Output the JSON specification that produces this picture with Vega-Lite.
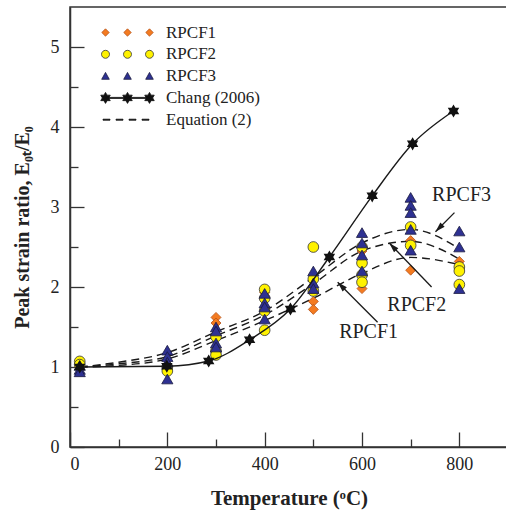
{
  "$schema": "https://vega.github.io/schema/vega-lite/v6.json",
  "width": 438,
  "height": 440,
  "autosize": {"type": "none"},
  "padding": {"left": 70, "top": 7, "right": 0, "bottom": 64},
  "config": {
    "view": {"stroke": "#333", "strokeWidth": 1.5},
    "font": "Liberation Serif",
    "axis": {
      "labelFont": "Liberation Serif",
      "titleFont": "Liberation Serif",
      "labelColor": "#222",
      "titleColor": "#222",
      "domainColor": "#333",
      "domainWidth": 1.5,
      "tickColor": "#333",
      "tickWidth": 1.3,
      "grid": false
    }
  },
  "resolve": {"axis": {"x": "independent", "y": "independent"}},
  "datasets": {
    "pts": [
      {"T": 20, "ratio": 1.0, "series": "RPCF1"},
      {"T": 200, "ratio": 1.02, "series": "RPCF1"},
      {"T": 300, "ratio": 1.62, "series": "RPCF1"},
      {"T": 300, "ratio": 1.55, "series": "RPCF1"},
      {"T": 400, "ratio": 1.93, "series": "RPCF1"},
      {"T": 500, "ratio": 1.82, "series": "RPCF1"},
      {"T": 500, "ratio": 1.72, "series": "RPCF1"},
      {"T": 600, "ratio": 2.45, "series": "RPCF1"},
      {"T": 600, "ratio": 1.98, "series": "RPCF1"},
      {"T": 700, "ratio": 2.58, "series": "RPCF1"},
      {"T": 700, "ratio": 2.21, "series": "RPCF1"},
      {"T": 800, "ratio": 2.32, "series": "RPCF1"},
      {"T": 20, "ratio": 1.07, "series": "RPCF2"},
      {"T": 20, "ratio": 1.03, "series": "RPCF2"},
      {"T": 200, "ratio": 1.0, "series": "RPCF2"},
      {"T": 200, "ratio": 0.95, "series": "RPCF2"},
      {"T": 300, "ratio": 1.38, "series": "RPCF2"},
      {"T": 300, "ratio": 1.2, "series": "RPCF2"},
      {"T": 300, "ratio": 1.15, "series": "RPCF2"},
      {"T": 400, "ratio": 1.97, "series": "RPCF2"},
      {"T": 400, "ratio": 1.86, "series": "RPCF2"},
      {"T": 400, "ratio": 1.7, "series": "RPCF2"},
      {"T": 400, "ratio": 1.46, "series": "RPCF2"},
      {"T": 500, "ratio": 2.5, "series": "RPCF2"},
      {"T": 500, "ratio": 2.1, "series": "RPCF2"},
      {"T": 500, "ratio": 1.95, "series": "RPCF2"},
      {"T": 600, "ratio": 2.5, "series": "RPCF2"},
      {"T": 600, "ratio": 2.3, "series": "RPCF2"},
      {"T": 600, "ratio": 2.15, "series": "RPCF2"},
      {"T": 600, "ratio": 2.06, "series": "RPCF2"},
      {"T": 700, "ratio": 2.75, "series": "RPCF2"},
      {"T": 700, "ratio": 2.52, "series": "RPCF2"},
      {"T": 800, "ratio": 2.25, "series": "RPCF2"},
      {"T": 800, "ratio": 2.2, "series": "RPCF2"},
      {"T": 800, "ratio": 2.03, "series": "RPCF2"},
      {"T": 20, "ratio": 1.02, "series": "RPCF3"},
      {"T": 20, "ratio": 0.97, "series": "RPCF3"},
      {"T": 20, "ratio": 0.94, "series": "RPCF3"},
      {"T": 200, "ratio": 1.21, "series": "RPCF3"},
      {"T": 200, "ratio": 1.13, "series": "RPCF3"},
      {"T": 200, "ratio": 1.06, "series": "RPCF3"},
      {"T": 200, "ratio": 0.85, "series": "RPCF3"},
      {"T": 300, "ratio": 1.5, "series": "RPCF3"},
      {"T": 300, "ratio": 1.45, "series": "RPCF3"},
      {"T": 300, "ratio": 1.3, "series": "RPCF3"},
      {"T": 300, "ratio": 1.25, "series": "RPCF3"},
      {"T": 400, "ratio": 1.92, "series": "RPCF3"},
      {"T": 400, "ratio": 1.8, "series": "RPCF3"},
      {"T": 400, "ratio": 1.75, "series": "RPCF3"},
      {"T": 400, "ratio": 1.6, "series": "RPCF3"},
      {"T": 500, "ratio": 2.2, "series": "RPCF3"},
      {"T": 500, "ratio": 2.05, "series": "RPCF3"},
      {"T": 500, "ratio": 1.98, "series": "RPCF3"},
      {"T": 600, "ratio": 2.68, "series": "RPCF3"},
      {"T": 600, "ratio": 2.55, "series": "RPCF3"},
      {"T": 600, "ratio": 2.4, "series": "RPCF3"},
      {"T": 600, "ratio": 2.2, "series": "RPCF3"},
      {"T": 700, "ratio": 3.12, "series": "RPCF3"},
      {"T": 700, "ratio": 3.02, "series": "RPCF3"},
      {"T": 700, "ratio": 2.93, "series": "RPCF3"},
      {"T": 700, "ratio": 2.72, "series": "RPCF3"},
      {"T": 700, "ratio": 2.46, "series": "RPCF3"},
      {"T": 800, "ratio": 2.7, "series": "RPCF3"},
      {"T": 800, "ratio": 2.5, "series": "RPCF3"},
      {"T": 800, "ratio": 1.98, "series": "RPCF3"}
    ],
    "chang": [
      {"T": 20, "ratio": 1.0},
      {"T": 199, "ratio": 1.01},
      {"T": 285, "ratio": 1.075},
      {"T": 369, "ratio": 1.34},
      {"T": 453, "ratio": 1.725},
      {"T": 533, "ratio": 2.375},
      {"T": 621, "ratio": 3.14},
      {"T": 704, "ratio": 3.79},
      {"T": 788, "ratio": 4.2}
    ],
    "eq": [
      {"curve": "RPCF1", "T": 20, "ratio": 1.0},
      {"curve": "RPCF1", "T": 100, "ratio": 1.02},
      {"curve": "RPCF1", "T": 200, "ratio": 1.1},
      {"curve": "RPCF1", "T": 300, "ratio": 1.33},
      {"curve": "RPCF1", "T": 400, "ratio": 1.58},
      {"curve": "RPCF1", "T": 500, "ratio": 1.86},
      {"curve": "RPCF1", "T": 600, "ratio": 2.17},
      {"curve": "RPCF1", "T": 700, "ratio": 2.37},
      {"curve": "RPCF1", "T": 800, "ratio": 2.28},
      {"curve": "RPCF2", "T": 20, "ratio": 1.0},
      {"curve": "RPCF2", "T": 100, "ratio": 1.04},
      {"curve": "RPCF2", "T": 200, "ratio": 1.13},
      {"curve": "RPCF2", "T": 300, "ratio": 1.39},
      {"curve": "RPCF2", "T": 400, "ratio": 1.65},
      {"curve": "RPCF2", "T": 500, "ratio": 2.04},
      {"curve": "RPCF2", "T": 600, "ratio": 2.45},
      {"curve": "RPCF2", "T": 700, "ratio": 2.57},
      {"curve": "RPCF2", "T": 800, "ratio": 2.35},
      {"curve": "RPCF3", "T": 20, "ratio": 1.0},
      {"curve": "RPCF3", "T": 100, "ratio": 1.06},
      {"curve": "RPCF3", "T": 200, "ratio": 1.18},
      {"curve": "RPCF3", "T": 300, "ratio": 1.44},
      {"curve": "RPCF3", "T": 400, "ratio": 1.7},
      {"curve": "RPCF3", "T": 500, "ratio": 2.12},
      {"curve": "RPCF3", "T": 600, "ratio": 2.55},
      {"curve": "RPCF3", "T": 700, "ratio": 2.72},
      {"curve": "RPCF3", "T": 800, "ratio": 2.48}
    ],
    "ann": [
      {"label": "RPCF3", "T": 744, "ratio": 3.15},
      {"label": "RPCF2", "T": 652, "ratio": 1.78},
      {"label": "RPCF1", "T": 553, "ratio": 1.44}
    ],
    "arrows": [
      {"from_T": 790, "from_r": 2.93, "to_T": 751, "to_r": 2.69},
      {"from_T": 743, "from_r": 2.0, "to_T": 656, "to_r": 2.55},
      {"from_T": 632, "from_r": 1.56, "to_T": 550, "to_r": 2.06}
    ]
  },
  "layer": [
    {
      "data": {"name": "eq"},
      "mark": {"type": "line", "interpolate": "monotone", "color": "#1a1a1a", "strokeWidth": 1.4, "strokeDash": [8, 5]},
      "encoding": {
        "x": {
          "field": "T", "type": "quantitative", "scale": {"domain": [0, 900], "nice": false, "zero": false},
          "axis": {
            "orient": "bottom",
            "values": [0, 200, 400, 600, 800],
            "format": "d",
            "tickSize": -15,
            "labelPadding": 23,
            "labelFontSize": 18,
            "title": "Temperature (ᵒC)",
            "titleFontSize": 21,
            "titleFontWeight": "bold",
            "titlePadding": 14
          }
        },
        "y": {
          "field": "ratio", "type": "quantitative", "scale": {"domain": [0, 5.5], "nice": false, "zero": false},
          "axis": {
            "orient": "left",
            "values": [0, 1, 2, 3, 4, 5],
            "format": "d",
            "tickSize": -14,
            "labelPadding": 25,
            "labelFontSize": 18,
            "title": "Peak strain ratio,  E₀ₜ/E₀",
            "titleFontSize": 20,
            "titleFontWeight": "bold",
            "titlePadding": 18
          }
        },
        "detail": {"field": "curve", "type": "nominal"}
      }
    },
    {
      "data": {"name": "pts"},
      "transform": [{"filter": "datum.series === 'RPCF1'"}],
      "mark": {"type": "point", "shape": "diamond", "filled": true, "fill": "#F47B20", "stroke": "#B5541C", "strokeWidth": 0.8, "size": 100, "opacity": 1},
      "encoding": {
        "x": {"field": "T", "type": "quantitative", "axis": null},
        "y": {"field": "ratio", "type": "quantitative", "axis": null}
      }
    },
    {
      "data": {"name": "pts"},
      "transform": [{"filter": "datum.series === 'RPCF2'"}],
      "mark": {"type": "point", "shape": "circle", "filled": true, "fill": "#FFF200", "stroke": "#333333", "strokeWidth": 0.8, "size": 115, "opacity": 1},
      "encoding": {
        "x": {"field": "T", "type": "quantitative", "axis": null},
        "y": {"field": "ratio", "type": "quantitative", "axis": null}
      }
    },
    {
      "data": {"name": "pts"},
      "transform": [{"filter": "datum.series === 'RPCF3'"}],
      "mark": {"type": "point", "shape": "triangle-up", "filled": true, "fill": "#2E3192", "stroke": "#1a1a40", "strokeWidth": 0.8, "size": 125, "opacity": 1},
      "encoding": {
        "x": {"field": "T", "type": "quantitative", "axis": null},
        "y": {"field": "ratio", "type": "quantitative", "axis": null}
      }
    },
    {
      "data": {"values": []},
      "mark": {"type": "point", "filled": true, "opacity": 1, "strokeWidth": 0.8},
      "encoding": {
        "fill": {
          "field": "series", "type": "nominal",
          "scale": {"domain": ["RPCF1", "RPCF2", "RPCF3", "Chang (2006)", "Equation (2)"], "range": ["#F47B20", "#FFF200", "#2E3192", "#111111", "#111111"]},
          "legend": {
            "orient": "none", "legendX": 47, "legendY": 15, "title": null, "padding": 0,
            "labelFont": "Liberation Serif", "labelFontSize": 17, "labelColor": "#222",
            "labelOffset": 28, "rowPadding": 2.8, "symbolSize": 400, "symbolStrokeWidth": 0.8
          }
        },
        "shape": {
          "field": "series", "type": "nominal",
          "scale": {"domain": ["RPCF1", "RPCF2", "RPCF3", "Chang (2006)", "Equation (2)"], "range": [
            "M-2.2,-0.37L-1.83,0L-2.2,0.37L-2.57,0ZM0,-0.37L0.37,0L0,0.37L-0.37,0ZM2.2,-0.37L2.57,0L2.2,0.37L1.83,0Z",
            "M-2.6,0A0.4,0.4,0,1,0,-1.8,0A0.4,0.4,0,1,0,-2.6,0ZM-0.4,0A0.4,0.4,0,1,0,0.4,0A0.4,0.4,0,1,0,-0.4,0ZM1.8,0A0.4,0.4,0,1,0,2.6,0A0.4,0.4,0,1,0,1.8,0Z",
            "M-2.2,-0.37L-1.82,0.32L-2.58,0.32ZM0,-0.37L0.38,0.32L-0.38,0.32ZM2.2,-0.37L2.58,0.32L1.82,0.32Z",
            "M-2.2,-0.05L2.2,-0.05L2.2,0.05L-2.2,0.05ZM-2.2,-0.55L-2.041,-0.275L-1.724,-0.275L-1.882,0L-1.724,0.275L-2.041,0.275L-2.2,0.55L-2.359,0.275L-2.676,0.275L-2.518,0L-2.676,-0.275L-2.359,-0.275ZM0,-0.55L0.159,-0.275L0.476,-0.275L0.318,0L0.476,0.275L0.159,0.275L0,0.55L-0.159,0.275L-0.476,0.275L-0.318,0L-0.476,-0.275L-0.159,-0.275ZM2.2,-0.55L2.359,-0.275L2.676,-0.275L2.518,0L2.676,0.275L2.359,0.275L2.2,0.55L2.041,0.275L1.724,0.275L1.882,0L1.724,-0.275L2.041,-0.275Z",
            "M-2.45,-0.05L-1.75,-0.05L-1.75,0.05L-2.45,0.05ZM-1.15,-0.05L-0.45,-0.05L-0.45,0.05L-1.15,0.05ZM0.15,-0.05L0.85,-0.05L0.85,0.05L0.15,0.05ZM1.45,-0.05L2.15,-0.05L2.15,0.05L1.45,0.05Z"
          ]}
        },
        "stroke": {
          "field": "series", "type": "nominal",
          "scale": {"domain": ["RPCF1", "RPCF2", "RPCF3", "Chang (2006)", "Equation (2)"], "range": ["#B5541C", "#333333", "#1a1a40", "#111111", "#111111"]}
        }
      }
    },
    {
      "data": {"name": "chang"},
      "mark": {"type": "line", "interpolate": "monotone", "color": "#1a1a1a", "strokeWidth": 1.4},
      "encoding": {
        "x": {
          "field": "T", "type": "quantitative",
          "axis": {"orient": "bottom", "values": [100, 300, 500, 700], "tickSize": -8, "labels": false, "domain": false, "title": null}
        },
        "y": {
          "field": "ratio", "type": "quantitative",
          "axis": {"orient": "left", "values": [0.5, 1.5, 2.5, 3.5, 4.5], "tickSize": -8, "labels": false, "domain": false, "title": null}
        }
      }
    },
    {
      "data": {"name": "chang"},
      "mark": {"type": "point", "filled": true, "opacity": 1, "color": "#111111", "size": 175, "shape": "M0,-1L0.289,-0.5L0.866,-0.5L0.577,0L0.866,0.5L0.289,0.5L0,1L-0.289,0.5L-0.866,0.5L-0.577,0L-0.866,-0.5L-0.289,-0.5Z"},
      "encoding": {
        "x": {"field": "T", "type": "quantitative", "axis": null},
        "y": {"field": "ratio", "type": "quantitative", "axis": null}
      }
    },
    {
      "data": {"name": "arrows"},
      "mark": {"type": "rule", "color": "#1a1a1a", "strokeWidth": 1.3},
      "encoding": {
        "x": {"field": "from_T", "type": "quantitative", "axis": null},
        "y": {"field": "from_r", "type": "quantitative", "axis": null},
        "x2": {"field": "to_T"},
        "y2": {"field": "to_r"}
      }
    },
    {
      "data": {"name": "arrows"},
      "transform": [
        {"calculate": "atan2((datum.to_T - datum.from_T) * 0.4867, (datum.to_r - datum.from_r) * 80) * 180 / PI", "as": "ang"}
      ],
      "mark": {"type": "point", "filled": true, "opacity": 1, "color": "#1a1a1a", "size": 100, "shape": "M0,0L-0.6,2L0.6,2Z"},
      "encoding": {
        "x": {"field": "to_T", "type": "quantitative", "axis": null},
        "y": {"field": "to_r", "type": "quantitative", "axis": null},
        "angle": {"field": "ang", "type": "quantitative", "scale": null}
      }
    },
    {
      "data": {"name": "ann"},
      "mark": {"type": "text", "align": "left", "baseline": "middle", "font": "Liberation Serif", "fontSize": 20, "color": "#222"},
      "encoding": {
        "x": {"field": "T", "type": "quantitative", "axis": null},
        "y": {"field": "ratio", "type": "quantitative", "axis": null},
        "text": {"field": "label", "type": "nominal"}
      }
    }
  ]
}
